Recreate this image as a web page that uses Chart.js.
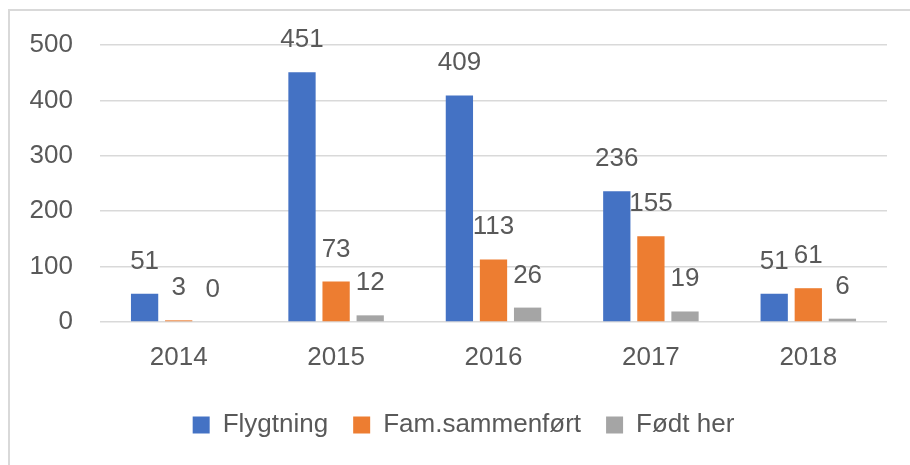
<!DOCTYPE html>
<html>
<head>
<meta charset="utf-8">
<script src="https://cdn.jsdelivr.net/npm/chart.js@4/dist/chart.umd.min.js"></script>
<style>
  html, body { margin: 0; padding: 0; background: #fff; }
  #frame {
    position: absolute; left: 8px; top: 9px;
    width: 900px; height: 454px;
    border-left: 2px solid #d9d9d9;
    border-top: 2px solid #d9d9d9;
  }
  #chart { display: block; }
</style>
</head>
<body>
<div id="frame"><canvas id="chart" width="900" height="454"></canvas></div>
<script>
const years = ['2014', '2015', '2016', '2017', '2018'];
const flygtning = [51, 451, 409, 236, 51];
const famSammenfort = [3, 73, 113, 155, 61];
const fodtHer = [0, 12, 26, 19, 6];
const yTicks = [0, 100, 200, 300, 400, 500];

const textColor = '#595959';
const fontFamily = '"Liberation Sans", Arial, sans-serif';
const fontSize = 26;

// draws the value above each bar, like the Excel data labels
const valueLabels = {
    id: 'valueLabels',
    afterDatasetsDraw(chart) {
        const ctx = chart.ctx;
        ctx.save();
        ctx.fillStyle = textColor;
        ctx.font = fontSize + 'px ' + fontFamily;
        ctx.textAlign = 'center';
        ctx.textBaseline = 'alphabetic';
        chart.data.datasets.forEach((ds, i) => {
            chart.getDatasetMeta(i).data.forEach((bar, j) => {
                ctx.fillText(String(ds.data[j]), bar.x, bar.y - 25);
            });
        });
        ctx.restore();
    }
};

// legend sits a bit right of centre in the original
const legendShift = {
    id: 'legendShift',
    afterLayout(chart) {
        chart.legend.left += 15;
        chart.legend.right += 15;
    }
};

function loadChart() {
    const ctx = document.getElementById('chart');
    return new Chart(ctx, {
        type: 'bar',
        data: {
            labels: years,
            datasets: [
                { label: 'Flygtning', data: flygtning, backgroundColor: '#4472C4' },
                { label: 'Fam.sammenført', data: famSammenfort, backgroundColor: '#ED7D31' },
                { label: 'Født her', data: fodtHer, backgroundColor: '#A5A5A5' }
            ]
        },
        options: {
            responsive: false,
            animation: false,
            categoryPercentage: 0.65,
            barPercentage: 0.8,
            layout: { padding: { top: 34, right: 23, bottom: 17, left: 0 } },
            plugins: {
                tooltip: { enabled: false },
                legend: {
                    position: 'bottom',
                    labels: {
                        color: textColor,
                        font: { family: fontFamily, size: fontSize },
                        boxWidth: 17,
                        boxHeight: 17,
                        padding: 25
                    }
                }
            },
            scales: {
                x: {
                    grid: { display: false },
                    border: { display: false },
                    ticks: {
                        color: textColor,
                        font: { family: fontFamily, size: fontSize },
                        padding: 12
                    },
                    afterFit(s) { s.height = 65; }
                },
                y: {
                    min: 0,
                    max: 500,
                    afterBuildTicks(s) { s.ticks = yTicks.map(v => ({ value: v })); },
                    grid: { color: '#d9d9d9', lineWidth: 1.5, drawTicks: false },
                    border: { display: false },
                    ticks: {
                        color: textColor,
                        font: { family: fontFamily, size: fontSize },
                        padding: 27
                    },
                    afterFit(s) {
                        s.width = 90;
                        s.paddingTop = 0;
                        s.paddingBottom = 0;
                    }
                }
            }
        },
        plugins: [valueLabels, legendShift]
    });
}

loadChart();
</script>
</body>
</html>
